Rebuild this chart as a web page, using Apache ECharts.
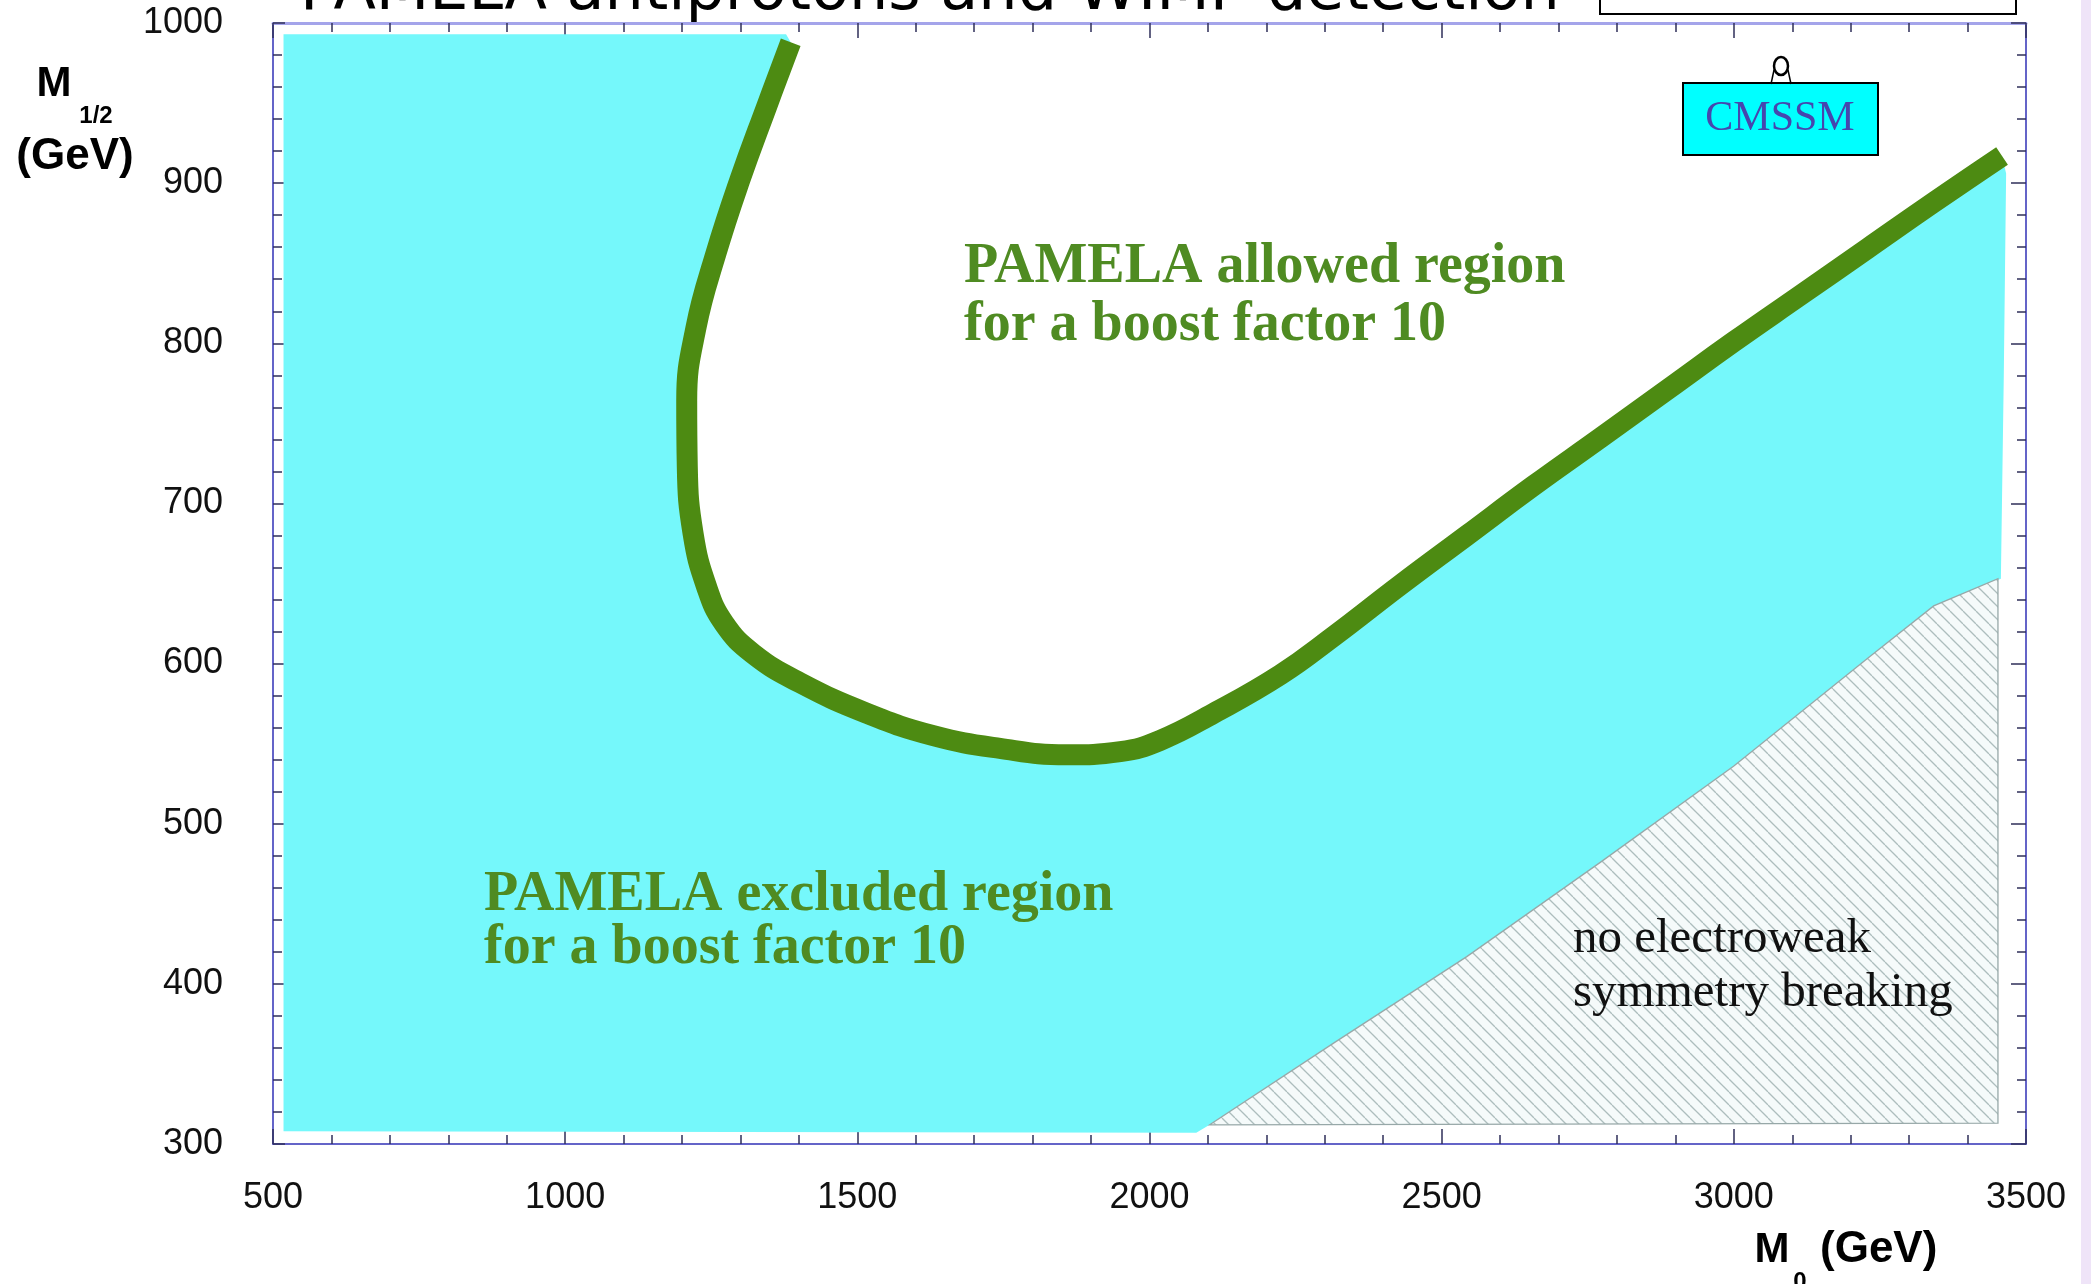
<!DOCTYPE html>
<html>
<head>
<meta charset="utf-8">
<script src="https://cdn.jsdelivr.net/npm/echarts@6/dist/echarts.min.js"></script>
<style>
html,body{margin:0;padding:0;background:#fff;}
#chart{width:2091px;height:1284px;}
</style>
</head>
<body>
<div id="chart"></div>
<script>
// ---- axis settings ----
const xRange = [500, 3500];
const yRange = [300, 1000];

// ---- PAMELA boundary (boost factor 10), M0 / M1/2 in GeV ----
const curveM0  = [1386, 1345, 1299, 1258, 1224, 1208, 1209, 1219, 1242, 1272, 1322, 1402, 1516, 1630, 1744, 1858, 1950, 2018, 2110, 2224, 2315, 2429, 2543, 2657, 2772, 2886, 3000, 3114, 3228, 3342, 3459];
const curveM12 = [988, 948, 902, 856, 810, 764, 723, 681, 648, 625, 606, 588, 569, 555, 547, 543, 545, 552, 569, 593, 617, 649, 680, 711, 741, 771, 801, 830, 859, 888, 917];

// ---- excluded region outline pieces (besides the boundary curve) ----
const exclLeftM0   = [518, 518, 1378];
const exclLeftM12  = [308, 993, 993];
const exclRightM0  = [3466, 3462, 3457];
const exclRightM12 = [906, 780, 653];

// ---- no EWSB (hatched) region ----
const ewsbM0  = [2103, 2315, 2543, 2772, 3000, 3228, 3342, 3452, 3452];
const ewsbM12 = [312, 363, 417, 476, 536, 603, 636, 653, 313];

// tail of excluded region bottom edge
const exclBottomM0  = [2080];
const exclBottomM12 = [307];

// build excluded polygon vertex list
const exclM0 = [].concat(exclLeftM0, curveM0, exclRightM0,
  ewsbM0.slice(0, 7).reverse(), exclBottomM0);
const exclM12 = [].concat(exclLeftM12, curveM12, exclRightM12,
  ewsbM12.slice(0, 7).reverse(), exclBottomM12);

// hatch pattern
const T = 13;
const pc = document.createElement('canvas');
pc.width = T; pc.height = T;
const g = pc.getContext('2d');
g.fillStyle = '#f5fafa'; g.fillRect(0, 0, T, T);
g.strokeStyle = '#adbdbd'; g.lineWidth = 1.3;
[-T, 0, T].forEach(function (x0) {
  g.beginPath(); g.moveTo(x0, 0); g.lineTo(x0 + T, T); g.stroke();
});

function polygonSeries(xs, ys, style, z) {
  return {
    type: 'custom',
    z: z,
    silent: true,
    animation: false,
    data: xs.map(function (x, i) { return [x, ys[i]]; }),
    renderItem: function (params, api) {
      if (params.dataIndex !== 0) return null;
      const pts = xs.map(function (x, i) { return api.coord([x, ys[i]]); });
      return { type: 'polygon', shape: { points: pts }, style: style };
    }
  };
}

const chart = echarts.init(document.getElementById('chart'), null, { renderer: 'canvas' });

const axisLineStyle = { color: '#6464c8', width: 2 };
const tickStyle = { color: '#2f2f5a', width: 1.5 };
const plain = function (v) { return String(v); };
const labelFont = { color: '#111', fontSize: 36, fontFamily: 'Liberation Sans, Arial, sans-serif', formatter: plain };

const option = {
  backgroundColor: '#ffffff',
  animation: false,
  grid: { left: 273, right: 65, top: 23, bottom: 140, containLabel: false },
  xAxis: [{
    type: 'value', min: xRange[0], max: xRange[1], interval: 500,
    position: 'bottom',
    axisLine: { show: true, lineStyle: axisLineStyle },
    axisTick: { show: true, inside: true, length: 15, lineStyle: tickStyle },
    minorTick: { show: true, splitNumber: 5, length: 9, lineStyle: tickStyle },
    axisLabel: Object.assign({ margin: 36 }, labelFont),
    splitLine: { show: false }
  }, {
    type: 'value', min: xRange[0], max: xRange[1], interval: 500,
    position: 'top',
    axisLine: { show: true, lineStyle: { color: '#a4a4ea', width: 3 } },
    axisTick: { show: true, inside: true, length: 15, lineStyle: tickStyle },
    minorTick: { show: true, splitNumber: 5, length: 9, lineStyle: tickStyle },
    axisLabel: { show: false },
    splitLine: { show: false }
  }],
  yAxis: [{
    type: 'value', min: yRange[0], max: yRange[1], interval: 100,
    position: 'left',
    axisLine: { show: true, lineStyle: axisLineStyle },
    axisTick: { show: true, inside: true, length: 12, lineStyle: tickStyle },
    minorTick: { show: true, splitNumber: 5, length: 9, lineStyle: tickStyle },
    axisLabel: Object.assign({ margin: 50 }, labelFont),
    splitLine: { show: false }
  }, {
    type: 'value', min: yRange[0], max: yRange[1], interval: 100,
    position: 'right',
    axisLine: { show: true, lineStyle: axisLineStyle },
    axisTick: { show: true, inside: true, length: 15, lineStyle: tickStyle },
    minorTick: { show: true, splitNumber: 5, length: 9, lineStyle: tickStyle },
    axisLabel: { show: false },
    splitLine: { show: false }
  }],
  series: [
    polygonSeries(exclM0, exclM12, { fill: '#75f8fb' }, 1),
    polygonSeries(ewsbM0, ewsbM12, {
      fill: { type: 'pattern', image: pc, repeat: 'repeat' },
      stroke: '#97a8a8', lineWidth: 1.3
    }, 1),
    {
      type: 'line',
      z: 3,
      silent: true,
      animation: false,
      showSymbol: false,
      symbol: 'none',
      smooth: 0.45,
      data: curveM0.map(function (x, i) { return [x, curveM12[i]]; }),
      lineStyle: { color: '#4d8b12', width: 21, cap: 'butt', join: 'round' }
    }
  ],
  graphic: [
    // slide title (cut off at top)
    { type: 'text', x: 300, y: -7, z: 10,
      style: { text: 'PAMELA antiprotons and WIMP detection', fill: '#000',
        font: '62px "DejaVu Sans", sans-serif', verticalAlign: 'middle' } },
    { type: 'rect', z: 10, shape: { x: 1600, y: -20, width: 416, height: 34 },
      style: { fill: '#fff', stroke: '#000', lineWidth: 2 } },
    // right slide edge band
    { type: 'rect', z: 0, shape: { x: 2081, y: 0, width: 10, height: 1284 },
      style: { fill: '#efe4f8' } },
    // y axis name
    { type: 'text', x: 54, y: 84, z: 10,
      style: { text: 'M', fill: '#000', font: 'bold 42px "Liberation Sans", Arial, sans-serif', align: 'center', verticalAlign: 'middle' } },
    { type: 'text', x: 96, y: 116, z: 10,
      style: { text: '1/2', fill: '#000', font: 'bold 24px "Liberation Sans", Arial, sans-serif', align: 'center', verticalAlign: 'middle' } },
    { type: 'text', x: 75, y: 157, z: 10,
      style: { text: '(GeV)', fill: '#000', font: 'bold 44px "Liberation Sans", Arial, sans-serif', align: 'center', verticalAlign: 'middle' } },
    // x axis name
    { type: 'text', x: 1772, y: 1250, z: 10,
      style: { text: 'M', fill: '#000', font: 'bold 42px "Liberation Sans", Arial, sans-serif', align: 'center', verticalAlign: 'middle' } },
    { type: 'text', x: 1800, y: 1282, z: 10,
      style: { text: '0', fill: '#000', font: 'bold 24px "Liberation Sans", Arial, sans-serif', align: 'center', verticalAlign: 'middle' } },
    { type: 'text', x: 1820, y: 1250, z: 10,
      style: { text: '(GeV)', fill: '#000', font: 'bold 44px "Liberation Sans", Arial, sans-serif', align: 'left', verticalAlign: 'middle' } },
    // region labels
    { type: 'text', z: 10, left: 964, top: 239,
      style: { text: 'PAMELA allowed region\nfor a boost factor 10', fill: '#4f8b22', lineHeight: 58,
        font: 'bold 56px "Liberation Serif", "Times New Roman", serif' } },
    { type: 'text', z: 10, left: 484, top: 868,
      style: { text: 'PAMELA excluded region\nfor a boost factor 10', fill: '#4f8b22', lineHeight: 53,
        font: 'bold 56px "Liberation Serif", "Times New Roman", serif' } },
    { type: 'text', z: 10, left: 1573, top: 912,
      style: { text: 'no electroweak\nsymmetry breaking', fill: '#111', lineHeight: 54,
        font: '49px "Liberation Serif", "Times New Roman", serif' } },
    // CMSSM tag
    { type: 'rect', z: 10, shape: { x: 1683, y: 83, width: 195, height: 72 },
      style: { fill: '#00ffff', stroke: '#000', lineWidth: 2 } },
    { type: 'text', x: 1780, y: 119, z: 11,
      style: { text: 'CMSSM', fill: '#4646ae', font: '42px "Liberation Serif", "Times New Roman", serif', align: 'center', verticalAlign: 'middle' } },
    { type: 'ellipse', z: 11, shape: { cx: 1781, cy: 66, rx: 7, ry: 9 },
      style: { fill: 'none', stroke: '#000', lineWidth: 2.5 } },
    { type: 'polyline', z: 11, shape: { points: [[1774, 70], [1771, 84]] }, style: { stroke: '#000', lineWidth: 1.5 } },
    { type: 'polyline', z: 11, shape: { points: [[1788, 70], [1791, 84]] }, style: { stroke: '#000', lineWidth: 1.5 } }
  ]
};
chart.setOption(option);
</script>
</body>
</html>
